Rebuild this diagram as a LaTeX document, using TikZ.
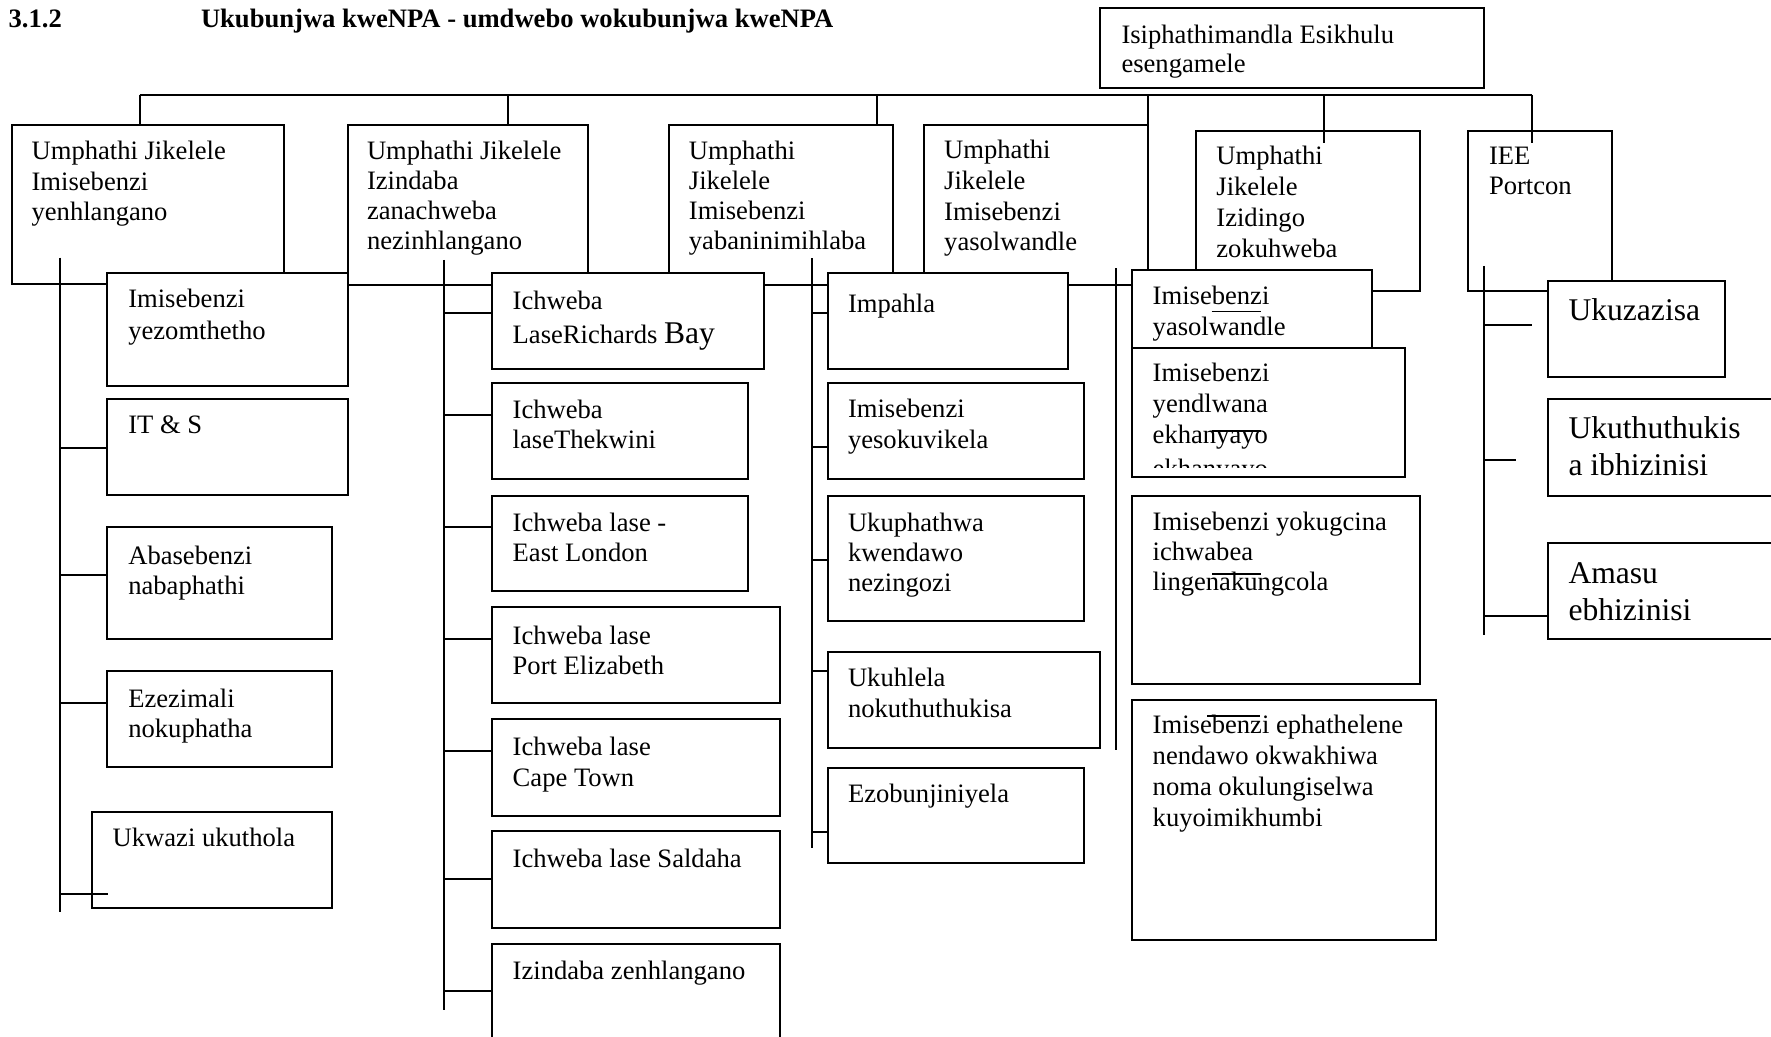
\documentclass[tikz,border=0pt]{standalone}
\usepackage{fontspec}
\setmainfont{Liberation Serif}
\newcommand\fz{\fontsize{13.3}{15.3}\selectfont}
\newcommand\fzl{\fontsize{15.8}{18}\selectfont}
\tikzset{
  boxst/.style={draw, fill=white, line width=1pt, inner sep=0pt, outer sep=0pt, rectangle},
  txt/.style={anchor=base west, inner sep=0pt, outer sep=0pt, font=\fz},
  ln/.style={line width=1pt},
  stray/.style={line width=0.8pt}
}
\newcommand\mybox[5]{\node[boxst, minimum width={(#4-(#2))*0.5pt}, minimum height={(#5-(#3))*0.5pt}] (#1) at ({((#2)+(#4))/2},{((#3)+(#5))/2}) {};}
\newcommand\mytext[5]{\foreach \ll [count=\ii from 0] in {#5} {\node[txt] (#1-\ii) at (#2,{#3+\ii*(#4)}) {\ll};}}
\begin{document}
\begin{tikzpicture}[x=0.5pt,y=-0.5pt]
\useasboundingbox (0,0) rectangle (1771,1037);
\fill[white] (0,0) rectangle (1771,1037);
\clip (0,0) rectangle (1771,1037);

% title
\node[txt, font=\fz\bfseries] (num) at (8.6,28) {3.1.2};
\node[txt, font=\fz\bfseries] (title) at (201,28) {Ukubunjwa kweNPA - umdwebo wokubunjwa kweNPA};

% first level boxes
\mybox{top}{1099.9}{8.3}{1484}{88.3}
\mybox{b1}{11.5}{125}{283.5}{284.5}
\mybox{b2}{348}{125}{588}{285}
\mybox{b3}{668.5}{125}{892.5}{285}
\mybox{b4}{924.3}{125}{1148.2}{285}
\mybox{b5}{1196.3}{130.7}{1420}{291}
\mybox{b6}{1468}{130.7}{1612}{291}

% bus and drops
\coordinate (busL) at (139.5,95);
\coordinate (busR) at (1531.7,95);
\coordinate (d2) at (508,95);
\coordinate (d3) at (876.6,95);
\coordinate (d4) at (1148.2,95);
\coordinate (d5) at (1323.8,95);
\coordinate (d5e) at (1323.8,143.3);
\coordinate (d6e) at (1531.7,143.3);
\draw[ln] (busL) -- (busR);
\draw[ln] (busL) -- (busL |- b1.north);
\draw[ln] (d2) -- (d2 |- b2.north);
\draw[ln] (d3) -- (d3 |- b3.north);
\draw[ln] (d4) -- (d4 |- b4.north);
\draw[ln] (d5) -- (d5e);
\draw[ln] (busR) -- (d6e);

% first level texts
\mytext{tt}{1121.5}{43.3}{29.4}{Isiphathimandla Esikhulu,esengamele}
\mytext{t1}{31.6}{160}{30.4}{Umphathi Jikelele,Imisebenzi,yenhlangano}
\mytext{t2}{367}{160}{30}{Umphathi Jikelele,Izindaba,zanachweba,nezinhlangano}
\mytext{t3}{688.9}{160}{30}{Umphathi,Jikelele,Imisebenzi,yabaninimihlaba}
\mytext{t4}{944.2}{159}{30.6}{Umphathi,Jikelele,Imisebenzi,yasolwandle}
\mytext{t5}{1216.4}{165}{30.8}{Umphathi,Jikelele,Izidingo,zokuhweba}
\mytext{t6}{1489}{165}{30}{IEE,Portcon}

% spines
\coordinate (s1t) at (60,257.7);   \coordinate (s1b) at (60,912.4);
\coordinate (s2t) at (444,260);    \coordinate (s2b) at (444,1010);
\coordinate (s3t) at (812,258.3);  \coordinate (s3b) at (812,848);
\coordinate (s4t) at (1116,268.5); \coordinate (s4b) at (1116,750);
\coordinate (s5t) at (1483.8,266); \coordinate (s5b) at (1483.8,635);
\draw[ln] (s1t) -- (s1b);
\draw[ln] (s2t) -- (s2b);
\draw[ln] (s3t) -- (s3b);
\draw[ln] (s4t) -- (s4b);
\draw[ln] (s5t) -- (s5b);

% child boxes
\mybox{c11}{107.3}{273.5}{347.7}{386}
\mybox{c12}{107.3}{398.7}{347.7}{495}
\mybox{c13}{107.3}{527}{332.3}{639}
\mybox{c14}{107.3}{671}{332.3}{767}
\mybox{c15}{91.7}{812}{332.3}{908}

\mybox{c21}{491.7}{272.6}{764}{369.5}
\mybox{c22}{491.7}{383.5}{748.3}{479}
\mybox{c23}{491.7}{496}{748.3}{591.4}
\mybox{c24}{491.7}{607.4}{780}{703.3}
\mybox{c25}{491.7}{719.4}{780}{815.8}
\mybox{c26}{491.7}{831.3}{780}{927.7}
\mybox{c27}{491.7}{943.8}{780}{1060}

\mybox{c31}{827.7}{273.2}{1068.3}{369.5}
\mybox{c32}{827.7}{383}{1084.3}{479}
\mybox{c33}{827.7}{495.5}{1084.3}{620.5}
\mybox{c34}{827.7}{651.8}{1100}{747.8}
\mybox{c35}{827.7}{767.9}{1084.3}{863}

\mybox{c41}{1132}{270}{1372}{348}
\mybox{c42}{1132}{348}{1404.5}{476.7}
\mybox{c43}{1132}{495.7}{1420}{684}
\mybox{c44}{1132}{700}{1436}{940}

\mybox{c51}{1548}{280.7}{1724.7}{376.7}
\mybox{c52}{1548}{399}{1800}{495.7}
\mybox{c53}{1548}{543.3}{1800}{639}

% ticks
\coordinate (k12) at (60,448);    \draw[ln] (k12) -- (k12 -| c12.west);
\coordinate (k13) at (60,575);    \draw[ln] (k13) -- (k13 -| c13.west);
\coordinate (k14) at (60,703);    \draw[ln] (k14) -- (k14 -| c14.west);
\coordinate (k15) at (60,894.4);  \coordinate (k15e) at (108.3,894.4); \draw[ln] (k15) -- (k15e);

\coordinate (k21) at (444,312.6); \draw[ln] (k21) -- (k21 -| c21.west);
\coordinate (k22) at (444,414.6); \draw[ln] (k22) -- (k22 -| c22.west);
\coordinate (k23) at (444,527.2); \draw[ln] (k23) -- (k23 -| c23.west);
\coordinate (k24) at (444,639);   \draw[ln] (k24) -- (k24 -| c24.west);
\coordinate (k25) at (444,750.7); \draw[ln] (k25) -- (k25 -| c25.west);
\coordinate (k26) at (444,878.7); \draw[ln] (k26) -- (k26 -| c26.west);
\coordinate (k27) at (444,990.5); \draw[ln] (k27) -- (k27 -| c27.west);

\coordinate (k31) at (812,312.6); \draw[ln] (k31) -- (k31 -| c31.west);
\coordinate (k32) at (812,447);   \draw[ln] (k32) -- (k32 -| c32.west);
\coordinate (k33) at (812,559.7); \draw[ln] (k33) -- (k33 -| c33.west);
\coordinate (k34) at (812,671.3); \draw[ln] (k34) -- (k34 -| c34.west);
\coordinate (k35) at (812,832);   \draw[ln] (k35) -- (k35 -| c35.west);

\coordinate (k51) at (1483.8,325); \coordinate (k51e) at (1532,325); \draw[ln] (k51) -- (k51e);
\coordinate (k52) at (1483.8,460); \coordinate (k52e) at (1516,460); \draw[ln] (k52) -- (k52e);
\coordinate (k53) at (1483.8,615.7); \draw[ln] (k53) -- (k53 -| c53.west);

% child texts
\mytext{x11}{128.3}{307.7}{32}{Imisebenzi,yezomthetho}
\mytext{x12}{128.3}{433.8}{30}{IT \& S}
\mytext{x13}{128.3}{564}{30}{Abasebenzi,nabaphathi}
\mytext{x14}{128.3}{707.3}{30}{Ezezimali,nokuphatha}
\mytext{x15}{112.7}{846}{30}{Ukwazi ukuthola}

\mytext{x21}{512.7}{309.2}{34.7}{Ichweba,LaseRichards {\fzl Bay}}
\mytext{x22}{512.7}{418}{30.3}{Ichweba,laseThekwini}
\mytext{x23}{512.7}{531}{30}{Ichweba lase -,East London}
\mytext{x24}{512.7}{644}{30}{Ichweba lase,Port Elizabeth}
\mytext{x25}{512.7}{755.5}{30.5}{Ichweba lase,Cape Town}
\mytext{x26}{512.7}{867.5}{30}{Ichweba lase Saldaha}
\mytext{x27}{512.7}{979}{30}{Izindaba zenhlangano}

\mytext{x31}{848}{313}{30}{Impahla}
\mytext{x32}{848}{417.4}{31.3}{Imisebenzi,yesokuvikela}
\mytext{x33}{848}{531}{30.3}{Ukuphathwa,kwendawo,nezingozi}
\mytext{x34}{848}{686}{31}{Ukuhlela,nokuthuthukisa}
\mytext{x35}{848}{802}{30}{Ezobunjiniyela}

\mytext{x41}{1152.7}{305}{31}{Imisebenzi,yasolwandle}
\mytext{x42}{1152.7}{381.7}{30.8}{Imisebenzi,yendlwana,ekhanyayo}
\begin{scope}
\clip (1132,348) rectangle (1404.5,467.5);
\node[txt] (x42-3) at (1152.7,477.5) {ekhanyayo};
\end{scope}
\mytext{x43}{1152.7}{530}{30}{Imisebenzi yokugcina,ichwabea,lingenakungcola}
\mytext{x44}{1152.7}{733.3}{31.1}{Imisebenzi ephathelene,nendawo okwakhiwa,noma okulungiselwa,kuyoimikhumbi}

\mytext{x51}{1568.5}{320.7}{36}{{\fzl Ukuzazisa}}
\mytext{x52}{1568.5}{438.3}{36.7}{{\fzl Ukuthuthukis},{\fzl a ibhizinisi}}
\mytext{x53}{1568.5}{583.3}{36.7}{{\fzl Amasu},{\fzl ebhizinisi}}

% stray marks
\draw[stray] (1211.7,311.7) -- (1260.7,311.7);
\draw[stray] (1211.7,431) -- (1260.7,431);
\draw[stray] (1212,574) -- (1260.5,574);
\draw[stray] (1207,715.7) -- (1260,715.7);
\end{tikzpicture}
\end{document}
